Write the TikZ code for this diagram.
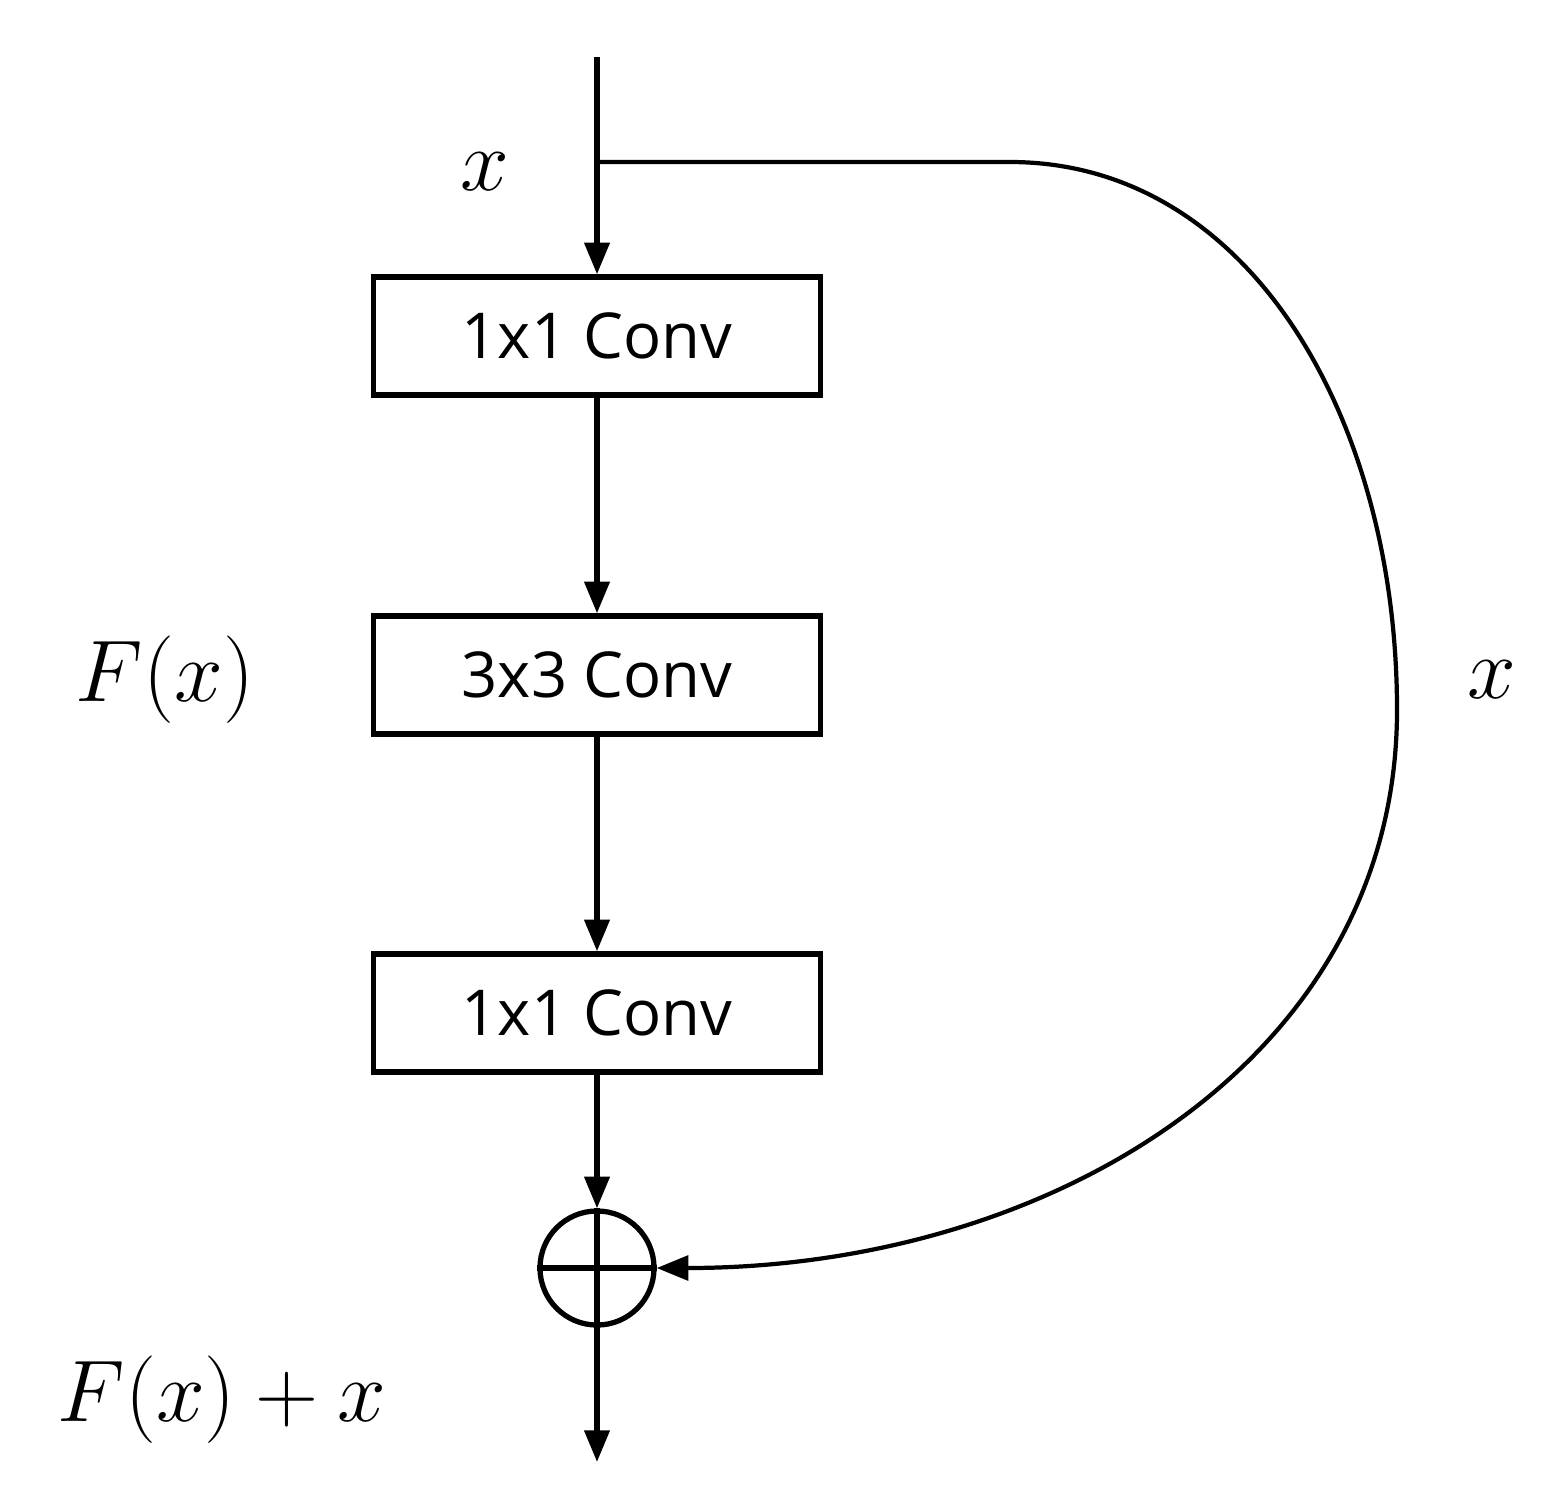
\documentclass[tikz,border=0pt]{standalone}
\usepackage{fontspec}
\setmainfont{Open Sans}
\usetikzlibrary{arrows.meta}
\begin{document}
\begin{tikzpicture}[x=0.01cm,y=-0.01cm,
  convbox/.style={draw,line width=1.5pt,minimum width=4.47cm,minimum height=1.18cm,font=\fontsize{18}{21}\selectfont},
  conn/.style={line width=1.5pt,-{Triangle[length=9pt,width=7pt]}},
  mlab/.style={font=\fontsize{31}{36}\selectfont}]
\useasboundingbox (0,0) rectangle (1558,1506);
\coordinate (top) at (597,57);
\coordinate (br) at (597,162);
\node[convbox] (c1) at (597,336) {1x1 Conv};
\node[convbox] (c2) at (597,675) {3x3 Conv};
\node[convbox] (c3) at (597,1013) {1x1 Conv};
\node[draw,circle,line width=1.5pt,minimum size=1.14cm,inner sep=0] (add) at (597,1268) {};
\draw[line width=1.5pt] (add.north) -- (add.south) (add.west) -- (add.east);
\coordinate (bot) at (597,1462);
\draw[conn] (top) -- (c1);
\draw[conn] (c1) -- (c2);
\draw[conn] (c2) -- (c3);
\draw[conn] (c3) -- (add);
\draw[conn] (add) -- (bot);
\draw[conn,line width=1.2pt] (br) -- (1010,162) .. controls (1250,162) and (1397,420) .. (1397,710)
  .. controls (1397,1060) and (1050,1268) .. (add.east);
\node[mlab] (lx) at (485,172) {$x$};
\node[mlab] (lf) at (165,680) {$F(x)$};
\node[mlab] (lr) at (1492,680) {$x$};
\node[mlab] (lo) at (222,1400) {$F(x)+x$};
\end{tikzpicture}
\end{document}
